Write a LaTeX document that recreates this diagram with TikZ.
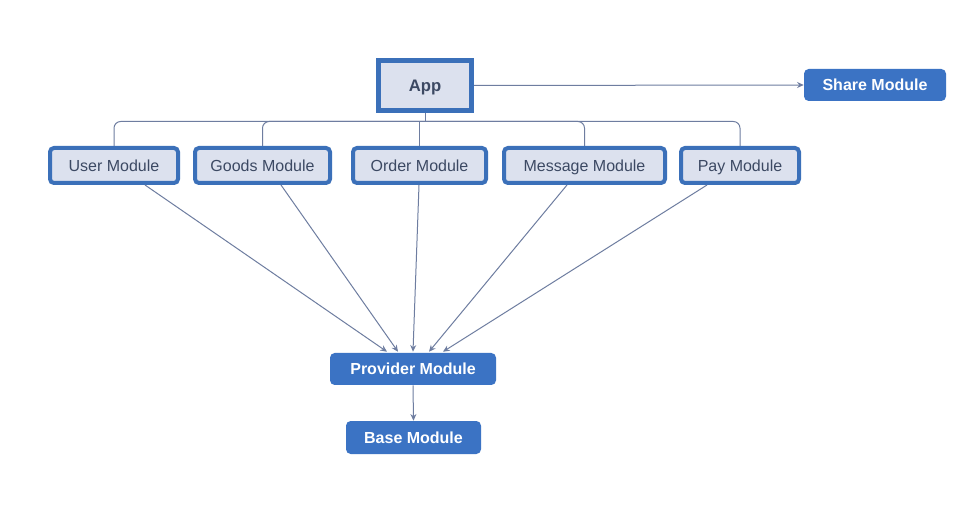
\documentclass[tikz,border=0pt]{standalone}
\usepackage{fontspec}
\setmainfont{Liberation Sans}
\usetikzlibrary{calc,arrows.meta}
\definecolor{bordc}{HTML}{3B70B9}
\definecolor{lightc}{HTML}{DCE1EE}
\definecolor{solidc}{HTML}{3B73C4}
\definecolor{txtc}{HTML}{3C4963}
\definecolor{linec}{HTML}{6E7DA0}
\begin{document}
\begin{tikzpicture}[x=0.75pt,y=-0.75pt,
  mod/.style={draw=bordc,line width=3pt,fill=lightc,rounded corners=3pt,
    minimum height=26.25pt,inner sep=0pt,text height=10pt,text depth=1.5pt,
    text=txtc,font=\fontsize{12}{14}\selectfont},
  appbox/.style={draw=bordc,line width=3.75pt,fill=lightc,minimum width=69.75pt,
    minimum height=37.5pt,inner sep=0pt,text height=10.5pt,text depth=1.5pt,
    text=txtc,font=\fontsize{12.5}{14}\selectfont\bfseries},
  solid/.style={fill=solidc,rounded corners=3.5pt,minimum height=24pt,inner sep=0pt,
    text height=10pt,text depth=1.5pt,
    text=white,font=\fontsize{12}{14}\selectfont\bfseries},
  conn/.style={draw=linec,line width=0.75pt},
  arr/.style={conn,-{Stealth[length=5pt,width=4.5pt]}}]
\fill[white] (0,0) rectangle (977,505);
\useasboundingbox (0,0) rectangle (977,505);

\node[appbox] (app) at (425,85.5) {App};
\node[solid,minimum width=106.5pt] (share) at (875,85) {Share Module};

\node[mod,minimum width=96pt] (user) at (114,165.5) {User Module};
\node[mod,minimum width=101.25pt] (goods) at (262.5,165.5) {Goods Module};
\node[mod,minimum width=99.75pt] (order) at (419.5,165.5) {Order Module};
\node[mod,minimum width=120.75pt] (message) at (584.5,165.5) {Message Module};
\node[mod,minimum width=88.5pt] (pay) at (740,165.5) {Pay Module};

\node[solid,minimum width=124.5pt] (provider) at (413,369) {Provider Module};
\node[solid,minimum width=101.25pt,minimum height=24.75pt] (base) at (413.5,437.5) {Base Module};

% tree from App
\coordinate (bar) at (425,121.5);
\draw[conn] (app.south) -- (bar);
\draw[conn] (order.north) -- (order.north |- bar) -- (bar);
\foreach \m in {user,goods,message,pay}{
  \draw[conn,rounded corners=5pt] (\m.north) -- (\m.north |- bar) -- (bar);
}
\draw[arr] (app.east) -- (share.west);

% arrows to provider
\draw[arr] ($(user.south)+(31,0)$) -- ($(provider.north)+(-26,-1)$);
\draw[arr] ($(goods.south)+(18.5,0)$) -- ($(provider.north)+(-15,-1)$);
\draw[arr] ($(order.south)+(-0.5,0)$) -- ($(provider.north)+(0,-1)$);
\draw[arr] ($(message.south)+(-17.5,0)$) -- ($(provider.north)+(16,-1)$);
\draw[arr] ($(pay.south)+(-33,0)$) -- ($(provider.north)+(30,-1)$);

\draw[arr] (provider.south) -- (base.north);
\end{tikzpicture}
\end{document}
